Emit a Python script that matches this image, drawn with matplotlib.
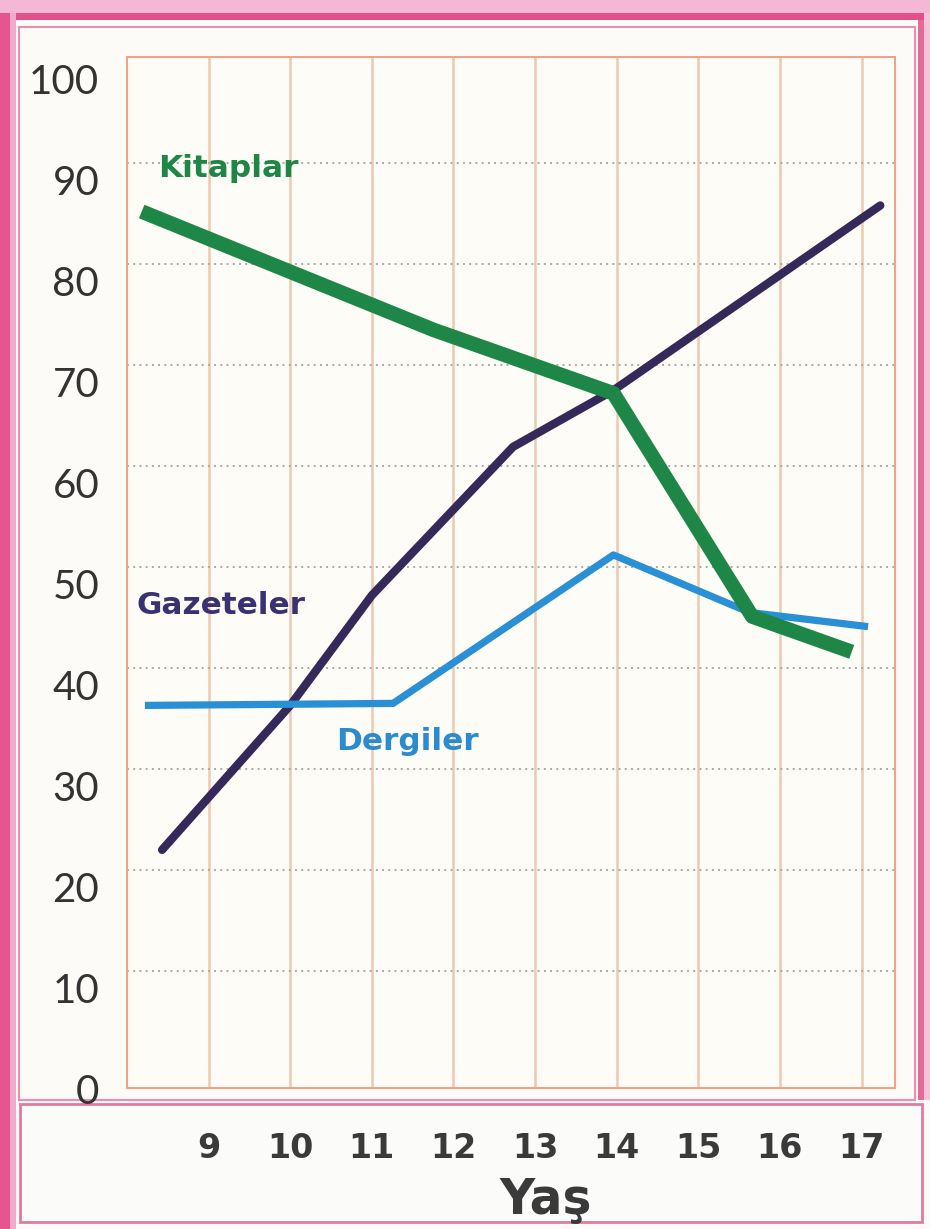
import matplotlib
matplotlib.use("Agg")
import matplotlib.pyplot as plt
import matplotlib.transforms as mtransforms
from matplotlib import font_manager
from matplotlib.patches import Rectangle

# data (x = age, y = percent)
ages = [9, 10, 11, 12, 13, 14, 15, 16, 17]
y_ticks = [0, 10, 20, 30, 40, 50, 60, 70, 80, 90, 100]

kitaplar_x = [8.18, 11.75, 13.96, 15.66, 16.88]
kitaplar_y = [85.2, 73.5, 67.2, 45.1, 41.6]

gazeteler_x = [8.43, 10.0, 11.0, 12.73, 13.96, 17.23]
gazeteler_y = [22.0, 36.3, 47.2, 61.9, 67.5, 85.8]

dergiler_x = [8.22, 11.26, 13.96, 15.63, 17.08]
dergiler_y = [36.3, 36.5, 51.2, 45.5, 44.1]

W, H = 930, 1229


def has_font(name):
    try:
        font_manager.findfont(name, fallback_to_default=False)
        return True
    except Exception:
        return False


narrow = has_font("Liberation Sans Narrow")
cond_family = ["Liberation Sans Narrow", "DejaVu Sans"] if narrow else ["DejaVu Sans"]
scale = 1.0 if narrow else 0.8

fig = plt.figure(figsize=(W / 100, H / 100), dpi=100, facecolor="#fcfbf8")


def box(x0, y0, x1, y1, **kw):
    # pixel box (top-left origin) -> figure fraction rectangle, kept under the axes
    r = Rectangle((x0 / W, 1 - y1 / H), (x1 - x0) / W, (y1 - y0) / H,
                  transform=fig.transFigure, zorder=-1, **kw)
    fig.add_artist(r)


# frame decoration
box(0, 0, W, 13, facecolor="#f4b8d2", edgecolor="none")
box(0, 13, W, 20, facecolor="#e2508a", edgecolor="none")
box(0, 13, 10, H, facecolor="#e5568e", edgecolor="none")
box(10, 13, 16, H, facecolor="#f3a9c8", edgecolor="none")
box(918, 20, 924, 1100, facecolor="#e46a98", edgecolor="none")
box(924, 13, W, 1100, facecolor="#f6c3d8", edgecolor="none")
box(19, 27, 915, 1100, facecolor="none", edgecolor="#e88fb2", linewidth=1.5)
box(20, 1104, 922, 1222, facecolor="#fbfbfa", edgecolor="#e07aa2", linewidth=2)

ax = fig.add_axes([127 / W, 1 - 1088 / H, 768 / W, 1031 / H])
ax.set_facecolor("#fdfcf6")
ax.set_xlim(8, 17.41)
ax.set_ylim(-1.58, 100.5)

for s in ax.spines.values():
    s.set_color("#eaa58c")
    s.set_linewidth(1.5)

for a in ages:
    ax.axvline(a, color="#ebcab2", linewidth=1.8, zorder=1)
for v in y_ticks[1:-1]:
    ax.axhline(v, color="#a9a9a9", linewidth=1.4, linestyle=(0, (1, 2.2)), zorder=1)

ax.plot(gazeteler_x, gazeteler_y, color="#35295a", linewidth=6, solid_capstyle="round", zorder=3)
ax.plot(dergiler_x, dergiler_y, color="#2a90d6", linewidth=5.2, solid_capstyle="butt", zorder=3)
ax.plot(kitaplar_x, kitaplar_y, color="#1e8748", linewidth=10.5, solid_capstyle="butt", zorder=4)

ax.text(9.24, 89.5, "Kitaplar", color="#1e8748", fontsize=28 * scale, fontweight="bold",
        family=cond_family, ha="center", va="center")
ax.text(9.15, 46.2, "Gazeteler", color="#3a3270", fontsize=28 * scale, fontweight="bold",
        family=cond_family, ha="center", va="center")
ax.text(11.43, 32.7, "Dergiler", color="#2a8bcf", fontsize=28 * scale, fontweight="bold",
        family=cond_family, ha="center", va="center")

ax.set_yticks(y_ticks)
ax.set_yticklabels([str(v) for v in y_ticks], fontsize=29, color="#333333",
                   family=["Lato", "DejaVu Sans"])
ax.set_xticks(ages)
ax.set_xticklabels([str(a) for a in ages], fontsize=30 * scale, color="#3a3a3a",
                   fontweight="bold", family=cond_family)
ax.tick_params(axis="y", length=0, pad=20)
ax.tick_params(axis="x", length=0, pad=32)

shift = mtransforms.ScaledTranslation(0, -17 / 100, fig.dpi_scale_trans)
for lbl in ax.get_yticklabels():
    lbl.set_transform(lbl.get_transform() + shift)

fig.text(546 / W, 1 - 1200 / H, "Yaş", fontsize=35, fontweight="bold", color="#3a3a3a",
         ha="center", va="center")

fig.savefig("out.png", dpi=100, facecolor=fig.get_facecolor())
